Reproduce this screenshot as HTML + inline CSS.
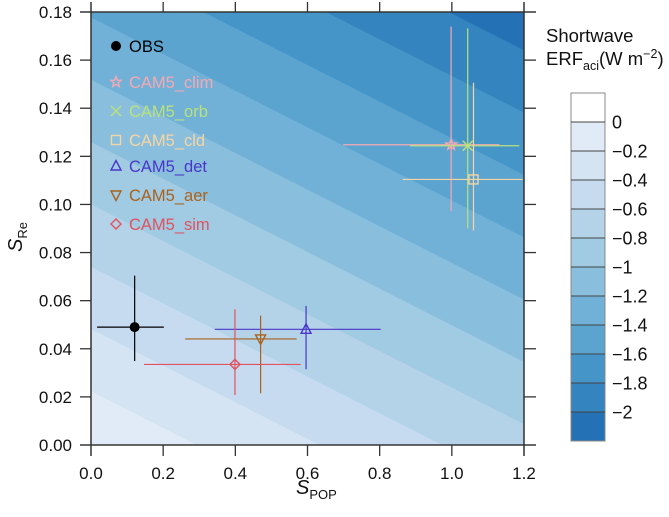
<!DOCTYPE html>
<html><head><meta charset="utf-8"><style>
body{margin:0;background:#fff;}
svg text{font-family:"Liberation Sans",sans-serif;}
</style></head><body>
<svg id="chart" width="669" height="512" viewBox="0 0 669 512" xmlns="http://www.w3.org/2000/svg"></svg>
<script>
// ---- data ----
const series = ['OBS','CAM5_clim','CAM5_orb','CAM5_cld','CAM5_det','CAM5_aer','CAM5_sim'];
const xVals = [0.121, 0.998, 1.044, 1.060, 0.596, 0.470, 0.399];
const yVals = [0.049, 0.1248, 0.1244, 0.1104, 0.0481, 0.0441, 0.0335];
const xLo = [0.017, 0.699, 0.884, 0.864, 0.343, 0.261, 0.147];
const xHi = [0.202, 1.132, 1.187, 1.196, 0.803, 0.570, 0.581];
const yLo = [0.0349, 0.0973, 0.0901, 0.0891, 0.0315, 0.0215, 0.0208];
const yHi = [0.0704, 0.1739, 0.1732, 0.1506, 0.0578, 0.0538, 0.0564];
const xTicks = [0,0.2,0.4,0.6,0.8,1.0,1.2];
const yTicks = [0,0.02,0.04,0.06,0.08,0.1,0.12,0.14,0.16,0.18];
const cbLevels = [0,-0.2,-0.4,-0.6,-0.8,-1,-1.2,-1.4,-1.6,-1.8,-2];
const cbLabels = ['0','\u22120.2','\u22120.4','\u22120.6','\u22120.8','\u22121','\u22121.2','\u22121.4','\u22121.6','\u22121.8','\u22122'];
// field E = c0 + cx*x + cy*y
const fieldCoef = [-0.027, -0.588, -7.72];

const colors = ['#000000','#f4a9b4','#b9e27c','#f6d5a4','#4a36c9','#a8621c','#e0525f'];
const bandColors = ['#ffffff','#e1ebf7','#d4e4f3','#c6dbef','#b4d3e8','#a1cae3','#89bfdc','#71b1d7','#5ca4d0','#4695c8','#3484bf','#2571b5'];

const svg = document.getElementById('chart');
const NS = 'http://www.w3.org/2000/svg';
function mk(tag, attrs, parent){const e=document.createElementNS(NS,tag);for(const k in attrs)e.setAttribute(k,attrs[k]);(parent||svg).appendChild(e);return e;}

const L=91,R=524,T=12,B=445;
const X = v => L + v/1.2*(R-L);
const Y = v => B - v/0.18*(B-T);

function clip(poly, f){
  const out=[];
  for(let i=0;i<poly.length;i++){
    const a=poly[i], b=poly[(i+1)%poly.length];
    const fa=f(a), fb=f(b);
    if(fa>=0) out.push(a);
    if((fa>=0)!==(fb>=0)){const t=fa/(fa-fb);out.push([a[0]+t*(b[0]-a[0]),a[1]+t*(b[1]-a[1])]);}
  }
  return out;
}
const E = p => fieldCoef[0]+fieldCoef[1]*p[0]+fieldCoef[2]*p[1];
const rect=[[0,0],[1.2,0],[1.2,0.18],[0,0.18]];
const bandsG = mk('g',{});


const edges=[Infinity,...cbLevels,-Infinity];
for(let i=0;i<edges.length-1;i++){
  const hi=edges[i], lo=edges[i+1];
  let p=rect;
  if(isFinite(hi)) p=clip(p, q=>hi-E(q));
  if(isFinite(lo)) p=clip(p, q=>E(q)-lo);
  if(p.length<3) continue;
  const poly=mk('polygon',{points:p.map(q=>X(q[0])+','+Y(q[1])).join(' '),fill:bandColors[i],stroke:bandColors[i],'stroke-width':0.5},bandsG);
  
  
}

const frame=mk('rect',{x:L,y:T,width:R-L,height:B-T,fill:'none',stroke:'#333','stroke-width':1.3});


mk('line',{x1:80,x2:536,y1:B,y2:B,stroke:'#333','stroke-width':1.3});
mk('line',{x1:L,x2:L,y1:2,y2:456,stroke:'#333','stroke-width':1.3});
mk('line',{x1:80,x2:536,y1:T,y2:T,stroke:'#333','stroke-width':1.3});
mk('line',{x1:R,x2:R,y1:2,y2:456,stroke:'#333','stroke-width':1.3});

xTicks.forEach(v=>{
  const x=X(v);
  mk('line',{x1:x,x2:x,y1:B,y2:B+11,stroke:'#333','stroke-width':1.3});
  mk('line',{x1:x,x2:x,y1:T,y2:T-10,stroke:'#333','stroke-width':1.3});
  const t=mk('text',{x:x,y:B+34,'text-anchor':'middle','font-size':17,fill:'#111'});
  t.textContent=v.toFixed(1);
  
  
});
yTicks.forEach(v=>{
  const y=Y(v);
  mk('line',{x1:L-11,x2:L,y1:y,y2:y,stroke:'#333','stroke-width':1.3});
  mk('line',{x1:R,x2:R+12,y1:y,y2:y,stroke:'#333','stroke-width':1.3});
  const t=mk('text',{x:72,y:y+6,'text-anchor':'end','font-size':17,fill:'#111'});
  t.textContent=v.toFixed(2);
  
  
});

const xt=mk('text',{x:296,y:494,'font-size':20,fill:'#111'});
xt.innerHTML='<tspan font-style="italic">S</tspan><tspan font-size="13" dy="5">POP</tspan>';


const yt=mk('text',{x:0,y:0,'font-size':20,fill:'#111',transform:'translate(22,252) rotate(-90)'});
yt.innerHTML='<tspan font-style="italic">S</tspan><tspan font-size="13" dy="5">Re</tspan>';



function marker(i,cx,cy,g){
  const c=colors[i], s=5;
  switch(i){
    case 0: mk('circle',{cx,cy,r:5,fill:c},g);break;
    case 1: { const pts=[];for(let k=0;k<10;k++){const r=k%2?2.3:5.5,a=-Math.PI/2+k*Math.PI/5;pts.push((cx+r*Math.cos(a))+','+(cy+r*Math.sin(a)));}
      mk('polygon',{points:pts.join(' '),fill:'none',stroke:c,'stroke-width':1.4},g);break;}
    case 2: mk('path',{d:`M${cx-s} ${cy-s}L${cx+s} ${cy+s}M${cx-s} ${cy+s}L${cx+s} ${cy-s}`,stroke:c,'stroke-width':1.5},g);break;
    case 3: mk('rect',{x:cx-4.5,y:cy-4.5,width:9,height:9,fill:'none',stroke:c,'stroke-width':1.4},g);break;
    case 4: mk('polygon',{points:`${cx},${cy-5.5} ${cx+5},${cy+4} ${cx-5},${cy+4}`,fill:'none',stroke:c,'stroke-width':1.4},g);break;
    case 5: mk('polygon',{points:`${cx},${cy+5.5} ${cx+5},${cy-4} ${cx-5},${cy-4}`,fill:'none',stroke:c,'stroke-width':1.4},g);break;
    case 6: mk('polygon',{points:`${cx},${cy-5} ${cx+5},${cy} ${cx},${cy+5} ${cx-5},${cy}`,fill:'none',stroke:c,'stroke-width':1.4},g);break;
  }
}
series.forEach((n,i)=>{
  const g=mk('g',{});
  
  
  mk('line',{x1:X(xLo[i]),x2:X(xHi[i]),y1:Y(yVals[i]),y2:Y(yVals[i]),stroke:colors[i],'stroke-width':1.2},g);
  mk('line',{x1:X(xVals[i]),x2:X(xVals[i]),y1:Y(yLo[i]),y2:Y(yHi[i]),stroke:colors[i],'stroke-width':1.2},g);
  marker(i,X(xVals[i]),Y(yVals[i]),g);
});

const legY=[46,82,111,140,166,195,224];
series.forEach((n,i)=>{
  const g=mk('g',{});
  
  
  marker(i,116,legY[i],g);
  const t=mk('text',{x:129,y:legY[i]+6,'font-size':16.5,fill:colors[i]},g);
  t.textContent=n;
});

const cbX=571,cbW=34,cbTop=93,cbStep=29;
const cbBot=cbTop+cbStep*bandColors.length;
const cb=mk('g',{});


bandColors.forEach((c,i)=>{
  mk('rect',{x:cbX,y:cbTop+i*cbStep,width:cbW,height:cbStep,fill:c},cb);
});
mk('rect',{x:cbX,y:cbTop,width:cbW,height:cbBot-cbTop,fill:'none',stroke:'#888','stroke-width':1},cb);
cbLevels.forEach((v,i)=>{
  const y=cbTop+(i+1)*cbStep;
  mk('line',{x1:cbX,x2:cbX+cbW,y1:y,y2:y,stroke:'#444','stroke-width':1},cb);
  const t=mk('text',{x:612,y:y+6.5,'font-size':18,fill:'#111'},cb);
  t.textContent=cbLabels[i];
});
const ct1=mk('text',{x:546,y:42,'font-size':18.5,fill:'#111'});
ct1.textContent='Shortwave';


const ct2=mk('text',{x:546,y:65,'font-size':18.5,fill:'#111'});
ct2.innerHTML='ERF<tspan font-size="12.5" dy="5">aci</tspan><tspan dy="-5">(W m</tspan><tspan font-size="12.5" dy="-7">\u22122</tspan><tspan dy="7">)</tspan>';


</script>
</body></html>
